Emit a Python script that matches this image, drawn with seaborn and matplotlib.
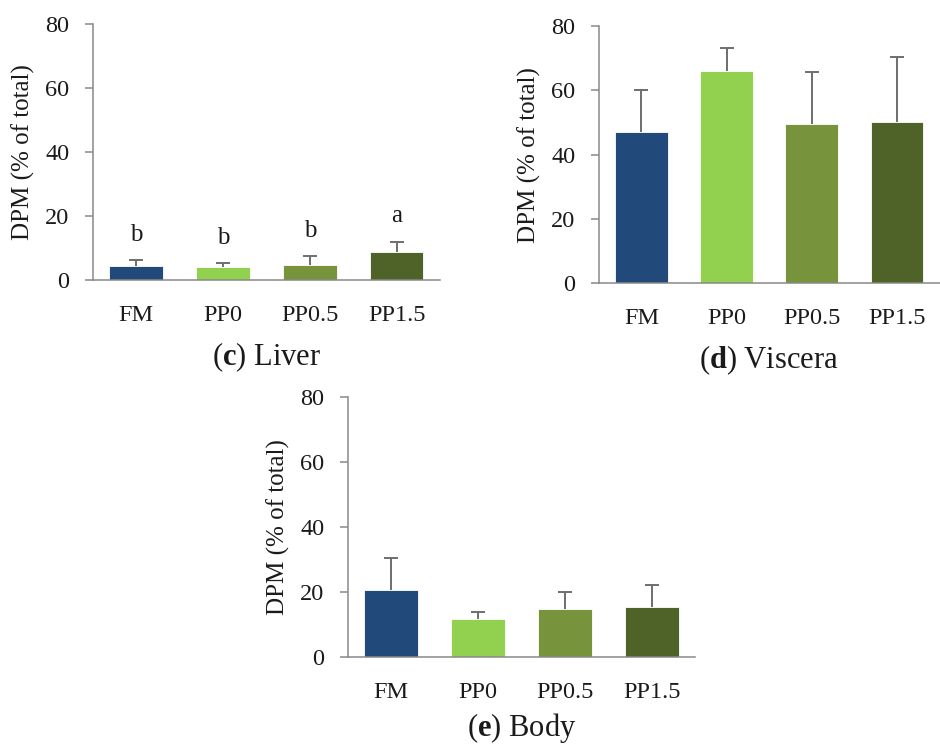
import numpy as np
import pandas as pd
import matplotlib
matplotlib.use("Agg")
import matplotlib.pyplot as plt
import seaborn as sns

# Data (means and upper SD)
groups = ["FM", "PP0", "PP0.5", "PP1.5"]
bar_colors = ["#214A7B", "#92D050", "#77933C", "#4F6228"]

liver_mean = [4.5, 4.0, 4.6, 8.7]
liver_err = [1.8, 1.3, 3.0, 3.3]
liver_letters = ["b", "b", "b", "a"]

viscera_mean = [47.1, 66.0, 49.7, 50.1]
viscera_err = [12.9, 7.1, 16.1, 20.2]

body_mean = [20.6, 11.7, 14.8, 15.4]
body_err = [9.8, 2.1, 5.3, 6.8]

yticks = [0, 20, 40, 60, 80]
ylabel = "DPM (% of total)"

sns.set_style("white")
plt.rcParams["font.family"] = ["Liberation Serif", "DejaVu Serif"]
plt.rcParams["mathtext.fontset"] = "custom"
plt.rcParams["mathtext.rm"] = "Liberation Serif"
plt.rcParams["mathtext.bf"] = "Liberation Serif:bold"

fig = plt.figure(figsize=(9.4, 7.49), dpi=100)

axc = fig.add_axes([0.0989, 0.626, 0.3691, 0.342])
axd = fig.add_axes([0.637, 0.622, 0.3626, 0.343])
axe = fig.add_axes([0.370, 0.1224, 0.3697, 0.3476])

spine_col = "#898989"
err_col = "#6E6E6E"
txt_col = "#1A1A1A"


def draw_panel(ax, means, errs, tag, name, letters=None, title_y=-0.30):
    df = pd.DataFrame({"group": groups, "value": means})
    sns.barplot(data=df, x="group", y="value", hue="group", palette=bar_colors,
                saturation=1, width=0.62, errorbar=None, legend=False, ax=ax,
                edgecolor="white", linewidth=0.6)
    xs = np.arange(len(groups))
    tops = np.array(means) + np.array(errs)
    # upper error bar only: stem + cap
    ax.vlines(xs, means, tops, color=err_col, linewidth=1.4, zorder=3)
    ax.plot(xs, tops, linestyle="none", marker="_", markersize=9.5,
            markeredgewidth=1.4, color=err_col, zorder=3)
    if letters is not None:
        for x, t, lab in zip(xs, tops, letters):
            ax.text(x, t + 6, lab, ha="center", va="baseline", fontsize=18,
                    color=txt_col)
    ax.set_xlim(-0.5, 3.5)
    ax.set_ylim(0, 80)
    ax.set_yticks(yticks)
    ax.set_xlabel("")
    ax.set_ylabel(ylabel, fontsize=18, labelpad=7, color=txt_col)
    sns.despine(ax=ax)
    for s in ["left", "bottom"]:
        ax.spines[s].set_color(spine_col)
        ax.spines[s].set_linewidth(1.1)
    ax.tick_params(axis="y", length=6, width=1.1, color=spine_col, pad=11,
                   labelsize=17.5, labelcolor=txt_col, left=True)
    ax.tick_params(axis="x", length=0, pad=18, labelsize=17.5, labelcolor=txt_col)
    ax.text(0.5, title_y, r"($\mathbf{" + tag + "}$) " + name, transform=ax.transAxes,
            ha="center", va="center", fontsize=22, color=txt_col)


draw_panel(axc, liver_mean, liver_err, "c", "Liver", liver_letters)
draw_panel(axd, viscera_mean, viscera_err, "d", "Viscera")
draw_panel(axe, body_mean, body_err, "e", "Body", title_y=-0.27)

fig.savefig("out.png", dpi=100)
